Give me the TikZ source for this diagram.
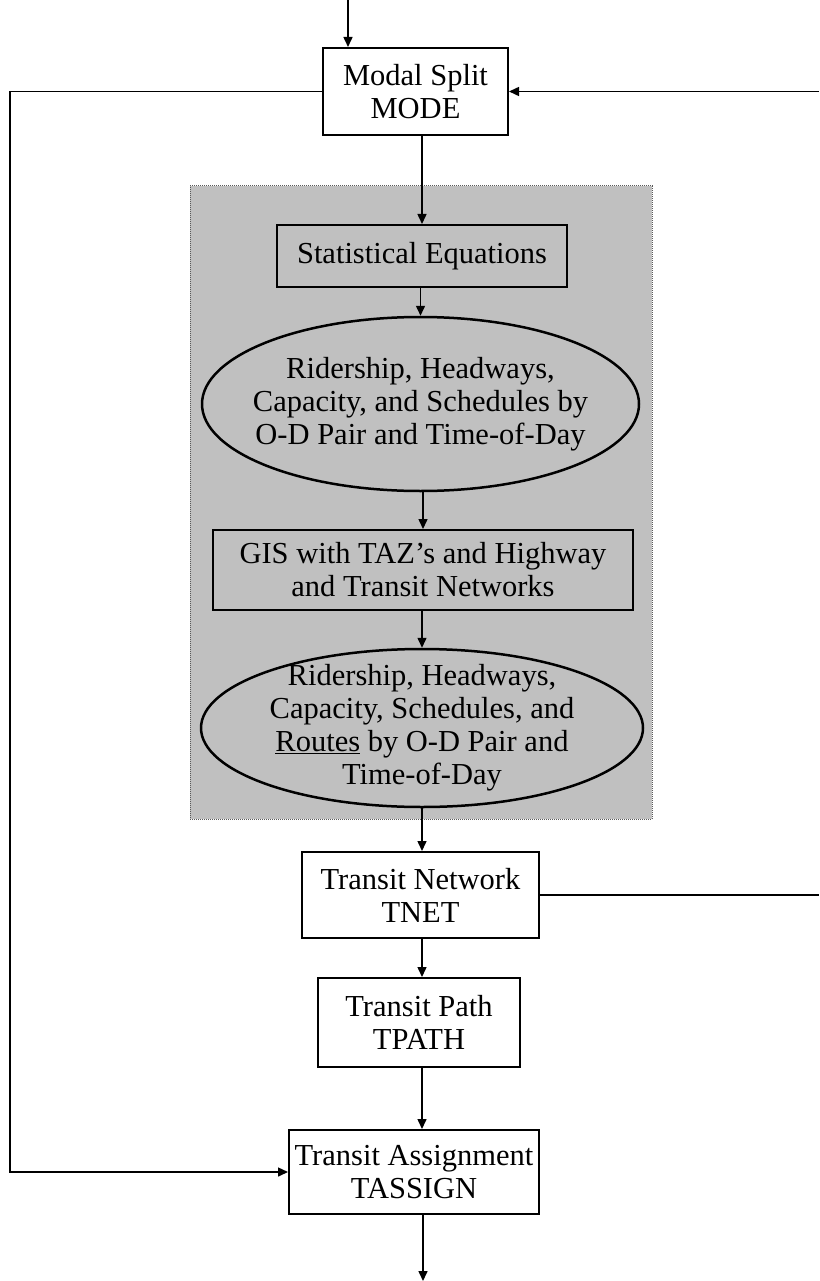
\documentclass[tikz,border=0pt]{standalone}
\usepackage{fontspec}
\setmainfont{Liberation Serif}
\usetikzlibrary{arrows.meta,shapes.geometric}
\definecolor{panelgray}{RGB}{192,192,192}
\begin{document}
\begin{tikzpicture}[x=1pt,y=1pt,
  txt/.style={align=center, inner sep=0pt, font=\fontsize{30.5}{33}\selectfont},
  box/.style={txt, draw, line width=2pt},
  oval/.style={txt, ellipse, draw, line width=2.5pt, inner sep=-40pt},
  link/.style={line width=1.5pt, -{Triangle[length=10pt,width=9pt]}},
  plain/.style={line width=1.5pt}]
\useasboundingbox (0,0) rectangle (819,-1281);

% shaded panel behind the GIS steps
\node[draw=black!65, densely dotted, line width=1pt, fill=panelgray,
      minimum width=462pt, minimum height=633pt, inner sep=0pt]
      (panel) at (421,-502.5) {};

% process steps
\node[box, minimum width=185pt, minimum height=87pt] (mode) at (415.5,-91.5) {Modal Split\\MODE};
\node[box, minimum width=290pt, minimum height=62pt] (stat) at (422,-256) {Statistical Equations};
\node[oval, minimum width=437pt, minimum height=174pt] (ell1) at (420.5,-404)
  {Ridership, Headways,\\Capacity, and Schedules by\\O-D Pair and Time-of-Day};
\node[box, minimum width=420pt, minimum height=80pt] (gis) at (423,-570)
  {GIS with TAZ’s and Highway\\and Transit Networks};
\node[oval, minimum width=442pt, minimum height=158pt] (ell2) at (422,-728)
  {Ridership, Headways,\\Capacity, Schedules, and\\\underline{Routes} by O-D Pair and\\Time-of-Day};
\node[box, minimum width=237pt, minimum height=86pt] (tnet) at (420.5,-895) {Transit Network\\TNET};
\node[box, minimum width=202pt, minimum height=89pt] (tpath) at (419,-1022.5) {Transit Path\\TPATH};
\node[box, minimum width=250pt, minimum height=84pt] (tassign) at (414,-1172) {Transit Assignment\\TASSIGN};

% free ends at the picture edges
\coordinate (topin) at (348,0);
\coordinate (lft) at (10,0);
\coordinate (rgt) at (819,0);
\coordinate (bot) at (423,-1281);

% main chain
\draw[link] (topin) -- (topin |- mode.north);
\draw[link] (stat.north |- mode.south) -- (stat.north);
\draw[link] (ell1.north |- stat.south) -- (ell1.north);
\draw[link] (gis.north |- ell1.south) -- (gis.north);
\draw[link] (ell2.north |- gis.south) -- (ell2.north);
\draw[link] (ell2.south) -- (ell2.south |- tnet.north);
\draw[link] (ell2.south |- tnet.south) -- (ell2.south |- tpath.north);
\draw[link] (ell2.south |- tpath.south) -- (ell2.south |- tassign.north);
\draw[link] (bot |- tassign.south) -- (bot);

% feedback loops
\draw[link] (mode.west) -- (mode.west -| lft) -- (lft |- tassign.west) -- (tassign.west);
\draw[link] (mode.east -| rgt) -- (mode.east);
\draw[plain] (tnet.east) -- (tnet.east -| rgt);
\end{tikzpicture}
\end{document}
